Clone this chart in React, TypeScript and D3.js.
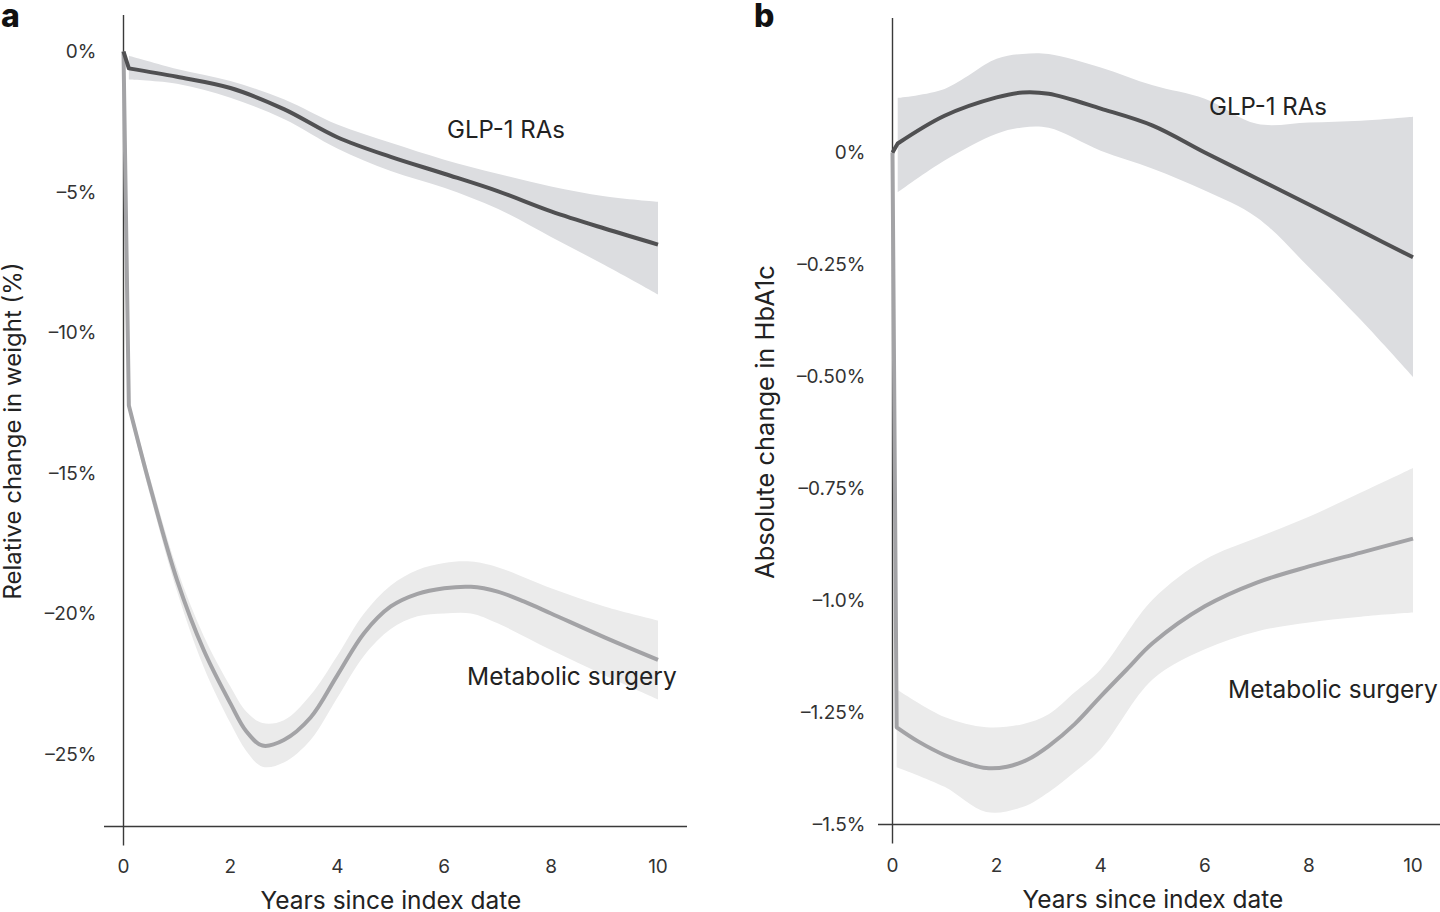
import * as d3 from 'd3';

// panel a: relative weight change (%)
const weightGlpYears = [0, 0.1, 1, 2, 3, 4, 5, 6, 7, 8, 9, 10];
const weightGlp = [0, -0.6, -0.9, -1.3, -2.05, -3.05, -3.75, -4.35, -4.97, -5.69, -6.3, -6.87];
const weightGlpBandYears = [0.1, 1, 2, 3, 4, 5, 6, 7, 8, 9, 10];
const weightGlpUpper = [-0.15, -0.62, -1.05, -1.7, -2.6, -3.25, -3.85, -4.35, -4.8, -5.15, -5.35];
const weightGlpLower = [-1.0, -1.15, -1.65, -2.4, -3.45, -4.25, -4.85, -5.6, -6.6, -7.6, -8.65];

const weightSurgYears = [0, 0.1, 0.5, 1, 1.5, 2, 2.3, 2.6, 3, 3.5, 4, 4.5, 5, 5.5, 6, 6.5, 7, 7.5, 8, 9, 10];
const weightSurg = [0, -12.6, -15.5, -18.8, -21.3, -23.2, -24.2, -24.7, -24.5, -23.7, -22.2, -20.7, -19.75, -19.3, -19.1, -19.05, -19.22, -19.58, -20.0, -20.85, -21.65];
const weightSurgBandYears = [0.1, 0.5, 1, 1.5, 2, 2.3, 2.6, 3, 3.5, 4, 4.5, 5, 5.5, 6, 6.5, 7, 8, 9, 10];
const weightSurgUpper = [-12.4, -15.2, -18.4, -20.8, -22.6, -23.5, -23.9, -23.8, -22.9, -21.5, -20.0, -19.0, -18.45, -18.2, -18.15, -18.35, -19.1, -19.75, -20.25];
const weightSurgLower = [-12.8, -15.8, -19.2, -21.9, -23.9, -24.9, -25.45, -25.3, -24.5, -23.0, -21.5, -20.55, -20.1, -20.0, -20.0, -20.35, -21.3, -22.2, -23.06];

// panel b: absolute HbA1c change (percentage points)
const hbaGlpYears = [0, 0.1, 1, 2, 2.5, 3, 4, 5, 6, 7, 8, 9, 10];
const hbaGlp = [0, 0.02, 0.082, 0.123, 0.134, 0.131, 0.098, 0.06, 0.0, -0.058, -0.116, -0.175, -0.234];
const hbaGlpBandYears = [0.1, 1, 2, 2.5, 3, 4, 5, 6, 7, 8, 9, 10];
const hbaGlpUpper = [0.122, 0.142, 0.209, 0.22, 0.22, 0.19, 0.15, 0.12, 0.064, 0.067, 0.071, 0.08];
const hbaGlpLower = [-0.089, -0.018, 0.042, 0.056, 0.055, 0.004, -0.036, -0.085, -0.145, -0.256, -0.374, -0.501];

const hbaSurgYears = [0, 0.08, 0.5, 1, 1.5, 1.8, 2.2, 2.6, 3, 3.5, 4, 4.5, 5, 6, 7, 8, 9, 10];
const hbaSurg = [0, -1.283, -1.315, -1.345, -1.366, -1.374, -1.371, -1.355, -1.325, -1.276, -1.214, -1.154, -1.095, -1.013, -0.96, -0.924, -0.893, -0.862];
const hbaSurgBandYears = [0.08, 1, 1.8, 2.5, 3, 3.5, 4, 5, 6, 7, 8, 9, 10];
const hbaSurgUpper = [-1.198, -1.26, -1.283, -1.276, -1.254, -1.205, -1.154, -0.998, -0.909, -0.86, -0.813, -0.759, -0.704];
const hbaSurgLower = [-1.372, -1.416, -1.472, -1.461, -1.428, -1.383, -1.332, -1.176, -1.109, -1.069, -1.049, -1.036, -1.027];

const xTicks = [0, 2, 4, 6, 8, 10];
const weightTicks = [0, -5, -10, -15, -20, -25];
const weightTickLabels = ['0%', '–5%', '–10%', '–15%', '–20%', '–25%'];
const hbaTicks = [0, -0.25, -0.5, -0.75, -1.0, -1.25, -1.5];
const hbaTickLabels = ['0%', '–0.25%', '–0.50%', '–0.75%', '–1.0%', '–1.25%', '–1.5%'];

const FONT = 'Inter, "Noto Sans", sans-serif';
const AXIS = '#3a3a3a';
const GLP_LINE = '#505052';
const GLP_BAND = '#dcdde0';
const SURG_LINE = '#a3a3a6';
const SURG_BAND = '#ebebeb';

type Band = { years: number[]; upper: number[]; lower: number[] };
type Series = { years: number[]; values: number[] };

interface PanelProps {
  letter: string;
  letterX: number;
  xRange: [number, number];
  yDomain: [number, number];
  yRange: [number, number];
  yTop: number;
  yBottom: number;
  xAxisStart: number;
  xAxisEnd: number;
  yTicks: number[];
  yTickLabels: string[];
  yTitle: string;
  yTitleX: number;
  yTitleY: number;
  yTitleSize: number;
  xTitleX: number;
  glp: Series;
  glpBand: Band;
  surg: Series;
  surgBand: Band;
  glpLabel: [number, number];
  surgLabel: [number, number];
}

function Panel(p: PanelProps) {
  const x = d3.scaleLinear().domain([0, 10]).range(p.xRange);
  const y = d3.scaleLinear().domain(p.yDomain).range(p.yRange);
  const yAxisTop = y(p.yTop);
  const xAxisY = y(p.yBottom);
  const x0 = x(0);

  const curve = d3.curveCatmullRom.alpha(0.5);
  const smooth = d3
    .line<[number, number]>()
    .x((d) => x(d[0]))
    .y((d) => y(d[1]))
    .curve(curve);
  const straight = d3
    .line<[number, number]>()
    .x((d) => x(d[0]))
    .y((d) => y(d[1]));
  const area = d3
    .area<[number, number, number]>()
    .x((d) => x(d[0]))
    .y0((d) => y(d[2]))
    .y1((d) => y(d[1]))
    .curve(curve);

  const pts = (s: Series) => s.years.map((t, i) => [t, s.values[i]] as [number, number]);
  const band = (b: Band) => b.years.map((t, i) => [t, b.upper[i], b.lower[i]] as [number, number, number]);

  // the jump at the index date is drawn straight, the rest smooth
  const seriesPath = (s: Series) => {
    const all = pts(s);
    const first = straight(all.slice(0, 2)) || '';
    const rest = (smooth(all.slice(1)) || '').replace(/^M[^A-Za-z]*/, '');
    return first + rest;
  };

  return (
    <g>
      <text x={p.letterX} y={27} fontFamily={FONT} fontWeight={800} fontSize={32} fill="#111">
        {p.letter}
      </text>

      <path d={area(band(p.surgBand)) || ''} fill={SURG_BAND} />
      <path d={area(band(p.glpBand)) || ''} fill={GLP_BAND} />

      <line x1={x0} x2={x0} y1={yAxisTop} y2={xAxisY + 19} stroke={AXIS} strokeWidth={1.4} />
      <line x1={p.xAxisStart} x2={p.xAxisEnd} y1={xAxisY} y2={xAxisY} stroke={AXIS} strokeWidth={1.4} />

      <path d={seriesPath(p.surg)} fill="none" stroke={SURG_LINE} strokeWidth={4} strokeLinejoin="round" />
      <path d={seriesPath(p.glp)} fill="none" stroke={GLP_LINE} strokeWidth={4} strokeLinejoin="round" />

      {p.yTicks.map((v, i) => (
        <text
          key={v}
          x={x0 - 27}
          y={y(v)}
          dy="0.35em"
          textAnchor="end"
          fontFamily={FONT}
          fontSize={19}
          fill="#333"
        >
          {p.yTickLabels[i]}
        </text>
      ))}
      {xTicks.map((t) => (
        <text key={t} x={x(t)} y={xAxisY + 47} textAnchor="middle" fontFamily={FONT} fontSize={19} fill="#333">
          {t}
        </text>
      ))}

      <text
        transform={`translate(${p.yTitleX},${p.yTitleY}) rotate(-90)`}
        textAnchor="middle"
        fontFamily={FONT}
        fontSize={p.yTitleSize}
        fill="#222"
      >
        {p.yTitle}
      </text>
      <text x={p.xTitleX} y={xAxisY + 83} textAnchor="middle" fontFamily={FONT} fontSize={24.5} fill="#222">
        Years since index date
      </text>

      <text x={p.glpLabel[0]} y={p.glpLabel[1]} fontFamily={FONT} fontSize={24} fill="#222">
        GLP-1 RAs
      </text>
      <text x={p.surgLabel[0]} y={p.surgLabel[1]} fontFamily={FONT} fontSize={24.5} fill="#222">
        Metabolic surgery
      </text>
    </g>
  );
}

export default function App() {
  return (
    <svg
      width={1440}
      height={912}
      viewBox="0 0 1440 912"
      style={{ position: 'absolute', left: 0, top: 0, background: 'white' }}
    >
      <Panel
        letter="a"
        letterX={1}
        xRange={[123.5, 658]}
        yDomain={[0, -25]}
        yRange={[51.5, 754]}
        yTop={1.3}
        yBottom={-27.58}
        xAxisStart={104}
        xAxisEnd={687}
        yTicks={weightTicks}
        yTickLabels={weightTickLabels}
        yTitle="Relative change in weight (%)"
        yTitleX={21}
        yTitleY={431}
        yTitleSize={24}
        xTitleX={391}
        glp={{ years: weightGlpYears, values: weightGlp }}
        glpBand={{ years: weightGlpBandYears, upper: weightGlpUpper, lower: weightGlpLower }}
        surg={{ years: weightSurgYears, values: weightSurg }}
        surgBand={{ years: weightSurgBandYears, upper: weightSurgUpper, lower: weightSurgLower }}
        glpLabel={[447, 138]}
        surgLabel={[467, 685]}
      />
      <Panel
        letter="b"
        letterX={754}
        xRange={[892.5, 1413]}
        yDomain={[0, -1.5]}
        yRange={[152.5, 824.5]}
        yTop={0.3}
        yBottom={-1.5}
        xAxisStart={878}
        xAxisEnd={1440}
        yTicks={hbaTicks}
        yTickLabels={hbaTickLabels}
        yTitle="Absolute change in HbA1c"
        yTitleX={774}
        yTitleY={422}
        yTitleSize={25.5}
        xTitleX={1153}
        glp={{ years: hbaGlpYears, values: hbaGlp }}
        glpBand={{ years: hbaGlpBandYears, upper: hbaGlpUpper, lower: hbaGlpLower }}
        surg={{ years: hbaSurgYears, values: hbaSurg }}
        surgBand={{ years: hbaSurgBandYears, upper: hbaSurgUpper, lower: hbaSurgLower }}
        glpLabel={[1209, 115]}
        surgLabel={[1228, 698]}
      />
    </svg>
  );
}
